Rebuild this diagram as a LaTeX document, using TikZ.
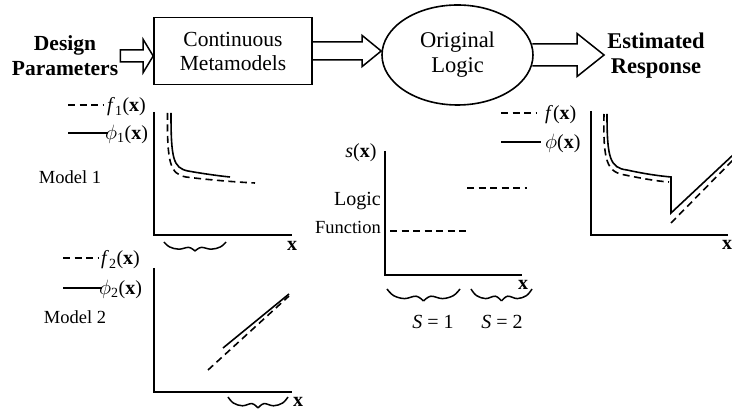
\documentclass[tikz,border=0pt]{standalone}
\usepackage{fontspec}
\setmainfont{Liberation Serif}
\usetikzlibrary{shapes.geometric,calc}
\newcommand\wbrace[4]{%
 \draw[bracestyle] plot[smooth,tension=0.6] coordinates {(#1,#3) ({#1+0.09*(#2-#1)},{#3+0.55*#4}) ({#1+0.24*(#2-#1)},{#3+0.8*#4}) ({#1+0.4*(#2-#1)},{#3+0.6*#4}) ({(#1+#2)/2},{#3+#4})};
 \draw[bracestyle] plot[smooth,tension=0.6] coordinates {(#2,#3) ({#2-0.09*(#2-#1)},{#3+0.55*#4}) ({#2-0.24*(#2-#1)},{#3+0.8*#4}) ({#2-0.4*(#2-#1)},{#3+0.6*#4}) ({(#1+#2)/2},{#3+#4})};}
\newcommand\hollowarrow[6]{% start, end, shaft half, head half, head length, closed?
 \draw[blockarrow] let \p1=(#1), \p2=(#2) in (\x1,\y1+#3pt) -- (\x2-#5pt,\y1+#3pt) -- (\x2-#5pt,\y1+#4pt) -- (\x2,\y1) -- (\x2-#5pt,\y1-#4pt) -- (\x2-#5pt,\y1-#3pt) -- (\x1,\y1-#3pt) #6;}
\begin{document}
\begin{tikzpicture}[x=1pt,y=-1pt,
  bigb/.style={font=\fontsize{21.5}{25}\selectfont\bfseries, inner sep=0pt, align=center},
  bigbr/.style={font=\fontsize{22.5}{25}\selectfont\bfseries, inner sep=0pt, align=center},
  lbl/.style={font=\fontsize{20}{22}\selectfont, inner sep=0pt},
  mlbl/.style={font=\fontsize{18.5}{22}\selectfont, inner sep=0pt},
  xlbl/.style={font=\fontsize{20}{22}\selectfont\bfseries, inner sep=0pt},
  axis/.style={line width=1.9pt},
  curve/.style={line width=1.6pt},
  dcurve/.style={line width=1.6pt, dash pattern=on 7pt off 4.5pt},
  bracestyle/.style={line width=1.5pt},
  blockarrow/.style={line width=1.5pt, line join=miter},
  boxstyle/.style={draw, line width=1.6pt, minimum width=158pt, minimum height=67pt, inner sep=0pt, align=center, font=\fontsize{21.5}{24}\selectfont},
  ellstyle/.style={draw, ellipse, line width=1.6pt, minimum width=151pt, minimum height=100pt, inner sep=0pt, align=center, font=\fontsize{22.5}{25}\selectfont},
]
\useasboundingbox (0,0) rectangle (732,411);

% top flow
\node[bigb] (dp) at (65,56) {Design\\Parameters};
\node[boxstyle] (cm) at (233,51) {Continuous\\Metamodels};
\node[ellstyle] (ol) at (457.5,55) {Original\\Logic};
\node[bigbr] (er) at (656,56) {Estimated\\Response};
\hollowarrow{[xshift=2pt]dp.east}{cm.west}{6}{16.5}{10}{-- cycle}
\hollowarrow{cm.east}{ol.west}{9}{15.5}{19}{}
\hollowarrow{[xshift=-1.5pt]ol.east}{[xshift=-3pt]er.west}{11}{21.5}{27}{}

% Model 1
\draw[dcurve] (68,105) -- (103,105);
\node[lbl, anchor=west] (f1) at (107,107) {\textit{f}\textsubscript{1}(\textbf{x})};
\draw[curve] (68,133) -- (108,133);
\node[lbl, anchor=west] (p1) at (105,134) {$\phi$\textsubscript{1}(\textbf{x})};
\node[mlbl] (m1) at (70,177) {Model 1};
\draw[axis] (154,112) -- (154,235) -- (292,235);
\draw[curve] (171,113) .. controls (171,158) and (173,168) .. (188,171) .. controls (205,174) and (220,176) .. (230,177);
\draw[dcurve] (167.5,113) .. controls (167,163) and (170,174) .. (186,177) .. controls (210,180) and (235,182) .. (255,183);
\wbrace{164}{226}{242}{9}
\node[xlbl] (x1) at (292,246) {x};

% Model 2
\draw[dcurve] (63,258) -- (98,258);
\node[lbl, anchor=west] (f2) at (101,260) {\textit{f}\textsubscript{2}(\textbf{x})};
\draw[curve] (63,288) -- (102,288);
\node[lbl, anchor=west] (p2) at (99,289) {$\phi$\textsubscript{2}(\textbf{x})};
\node[mlbl] (m2) at (75,317) {Model 2};
\draw[axis] (154,268) -- (154,392) -- (292,392);
\draw[curve] (223,348) -- (289,294);
\draw[dcurve] (208,370) -- (289,296);
\wbrace{228}{288}{397}{11}
\node[xlbl] (x2) at (298,402) {x};

% Logic function
\node[lbl] (sx) at (361,153) {\textit{s}(\textbf{x})};
\node[lbl, anchor=east] (lg) at (381,201) {Logic};
\node[mlbl, anchor=east] (fn) at (381,227) {Function};
\draw[axis] (385,151) -- (385,275) -- (522,275);
\draw[dcurve] (390,231) -- (466,231);
\draw[dcurve] (467,188) -- (527,188);
\node[xlbl] (x3) at (523,285) {x};
\wbrace{387}{460}{289}{12}
\wbrace{471}{532}{289}{12}
\node[lbl] (s1) at (433,322) {\textit{S} = 1};
\node[lbl] (s2) at (502,322) {\textit{S} = 2};

% Estimated response
\draw[dcurve] (501,113) -- (537,113);
\node[lbl, anchor=west] (f0) at (545,115) {\textit{f}(\textbf{x})};
\draw[curve] (501,142) -- (541,142);
\node[lbl, anchor=west] (p0) at (545,143) {$\phi$(\textbf{x})};
\draw[axis] (591,111) -- (591,235) -- (728,235);
\draw[curve] (607,114) .. controls (607,158) and (610,168) .. (627,170) .. controls (645,174) and (660,176) .. (671,177) -- (671,213) -- (733,155);
\draw[dcurve] (604,114) .. controls (603,162) and (607,172) .. (625,175) .. controls (640,178) and (655,181) .. (669,182);
\draw[dcurve] (671,223) -- (733,160);
\node[xlbl] (x4) at (727,245) {x};
\end{tikzpicture}
\end{document}
